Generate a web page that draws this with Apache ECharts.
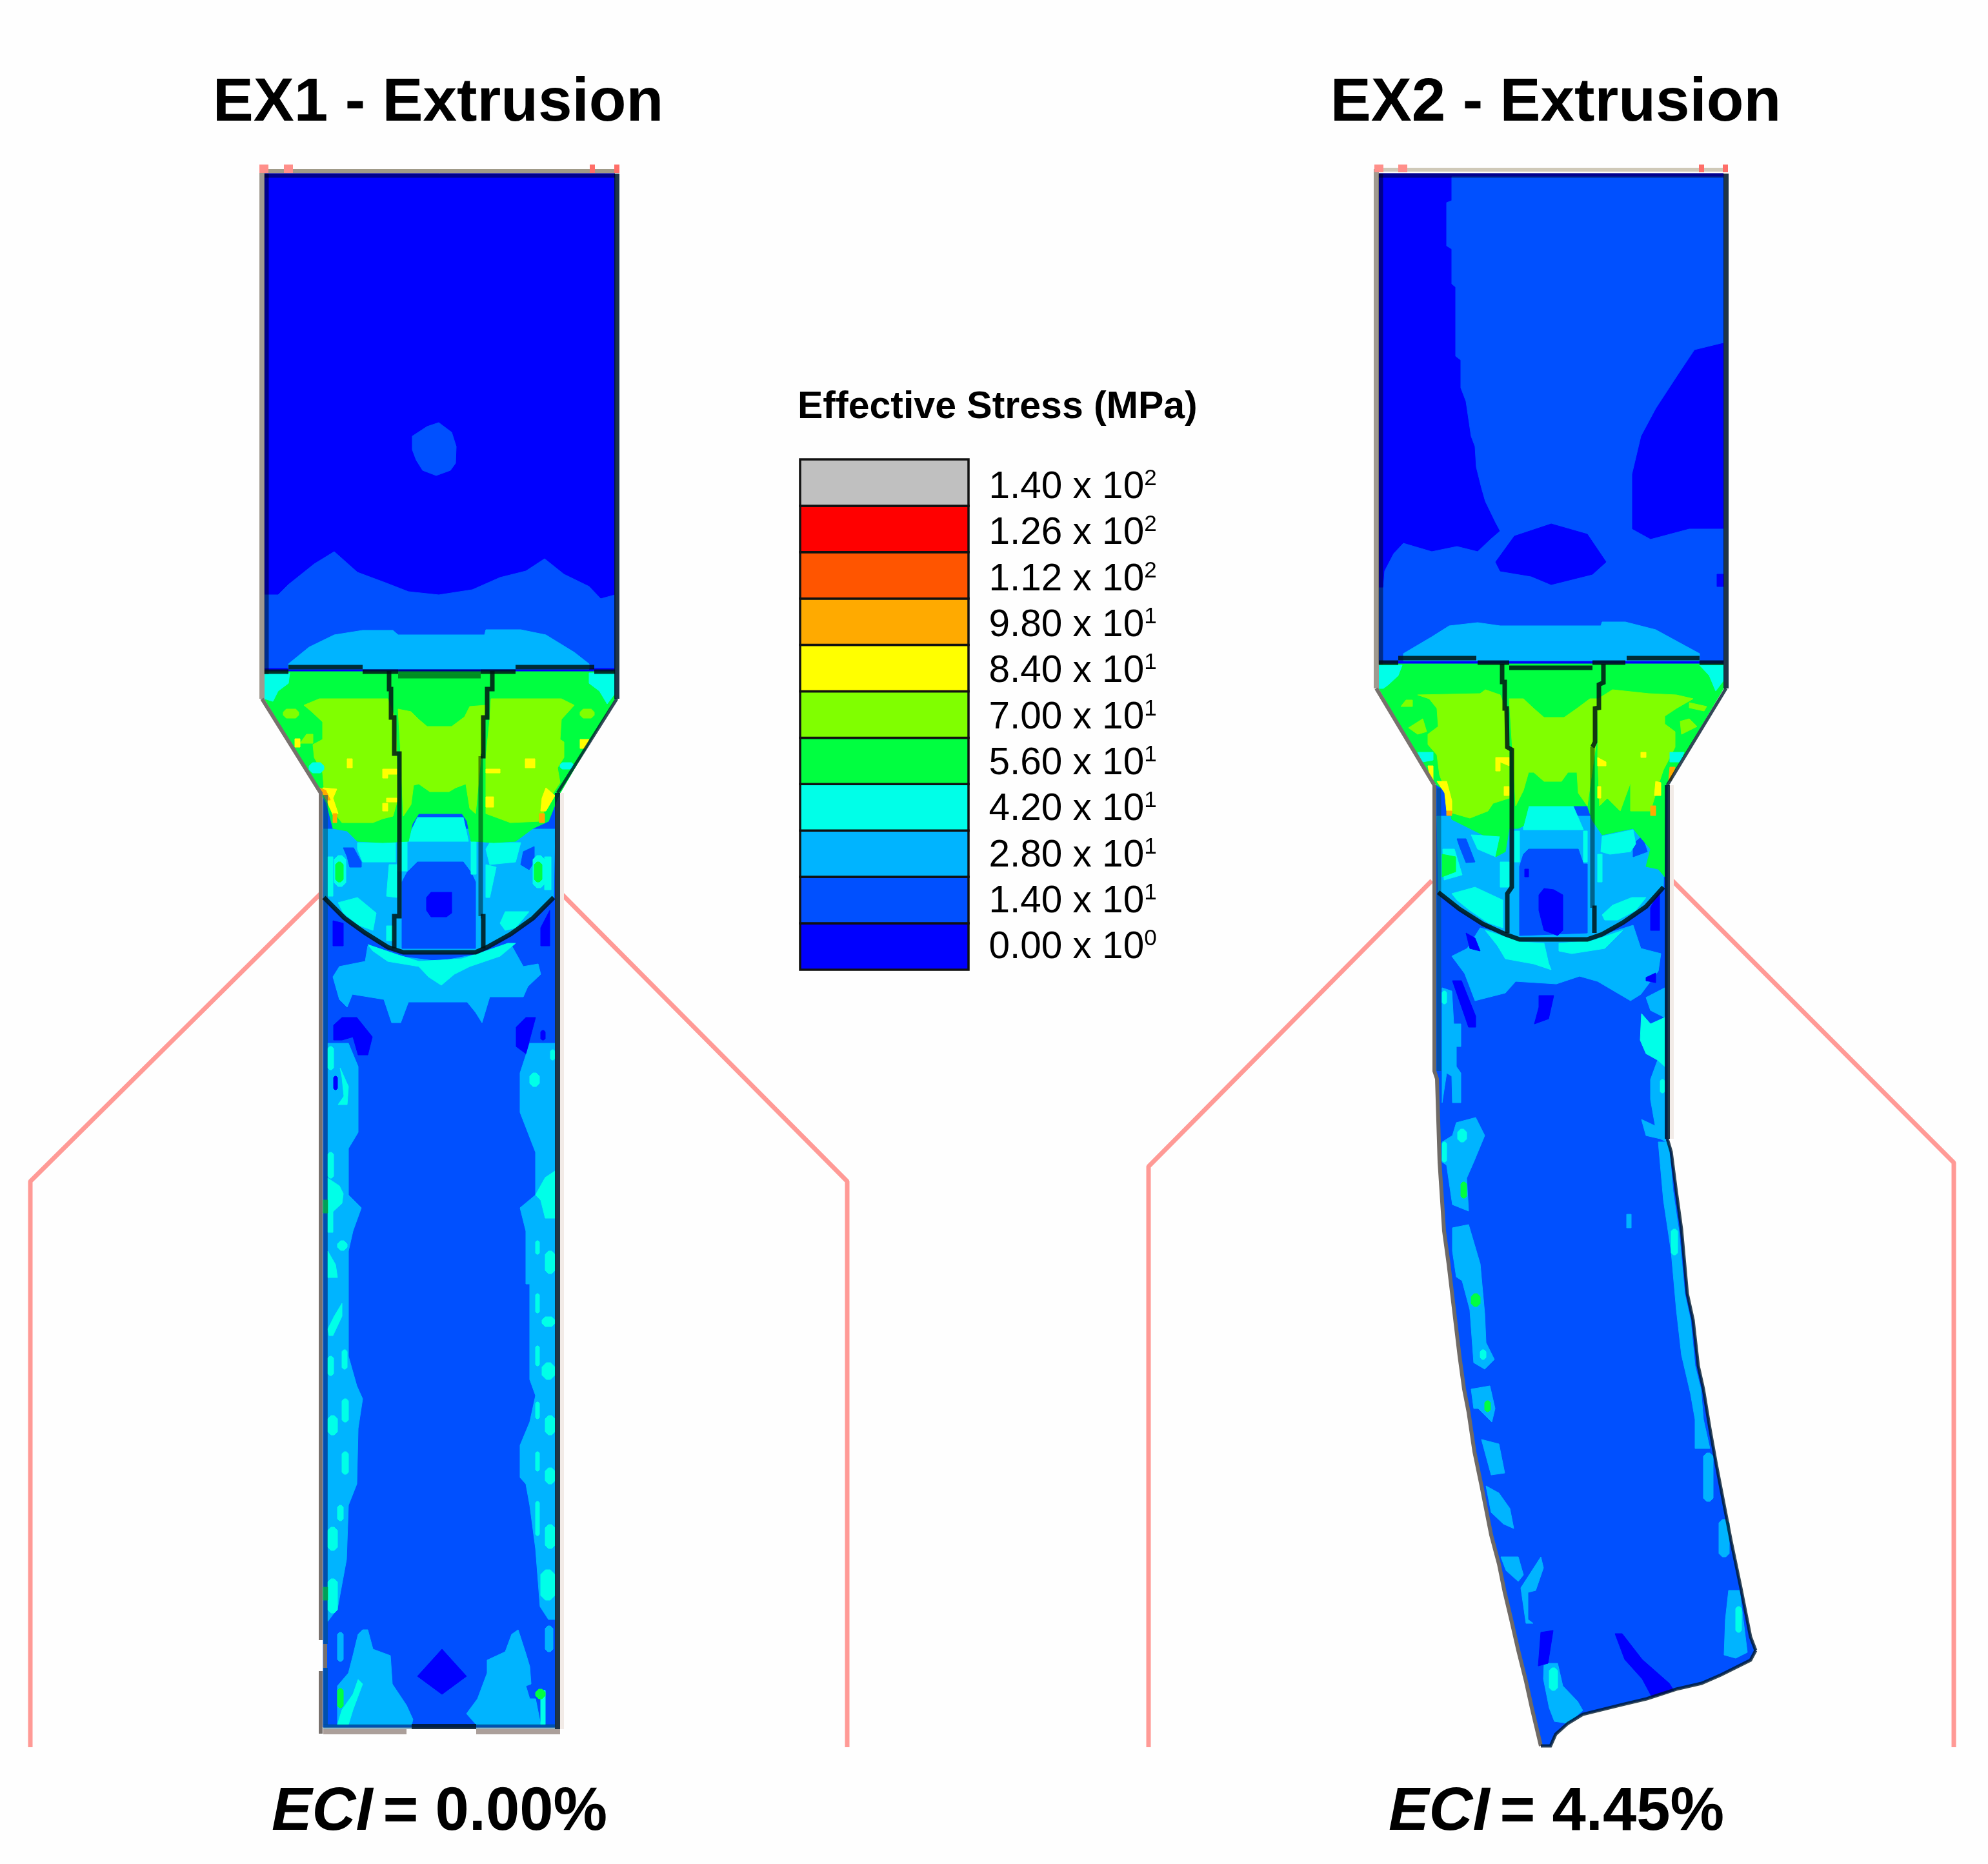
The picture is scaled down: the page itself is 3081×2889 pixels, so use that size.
<!DOCTYPE html>
<html>
<head>
<meta charset="utf-8">
<title>EX1 / EX2 extrusion effective stress</title>
<script src="https://cdn.jsdelivr.net/npm/echarts@6/dist/echarts.min.js"></script>
<style>
html,body{margin:0;padding:0;background:#fefefe;}
#main{width:3081px;height:2889px;}
</style>
</head>
<body>
<div id="main"></div>
<script type="text/javascript">
// stress bands, lowest first
var bandColors = ['#0000FF','#0050FF','#00B4FF','#00FFE8','#00FF40','#80FF00','#FFFF00','#FFAA00','#FF5500','#FF0000','#C0C0C0'];
var legendMantissa = ['0.00','1.40','2.80','4.20','5.60','7.00','8.40','9.80','1.12','1.26','1.40'];
var legendExponent = [0,1,1,1,1,1,1,1,2,2,2];
var panelTitles = ['EX1 - Extrusion','EX2 - Extrusion'];
var eciValues = ['0.00%','4.45%'];

function box(a,b,c,d){ return [[a,b],[c,b],[c,d],[a,d]]; }
// small contour islands, corners cut off
function spot(a,b,c,d){
  var k = Math.min(c-a,d-b)/3;
  return [[a+k,b],[c-k,b],[c,b+k],[c,d-k],[c-k,d],[a+k,d],[a,d-k],[a,b+k]];
}

// ---- EX1 contour regions (picture pixels) ----
var ex1Block = [[[410,269],[953,269],[953,1045],[410,1045]]];
var ex1TopBlue = [
  [[410,922],[431,922],[447,906],[487,874],[518,855],[554,887],[597,903],[633,917],[680,922],[732,914],[775,895],[815,885],[844,866],[874,890],[913,909],[931,928],[953,922],[953,1035],[410,1035]],
  [[639,676],[662,661],[680,655],[700,670],[707,692],[706,718],[698,729],[676,737],[655,729],[645,713],[639,697]]
];
var ex1TopSky = [[[447,1029],[479,1003],[518,984],[562,977],[609,977],[617,984],[751,984],[753,976],[807,976],[846,984],[890,1011],[913,1029],[913,1037],[447,1037]]];
var ex1BarBase = [[[501,1229],[860,1229],[860,2677],[501,2677]]];
var ex1BarSky = [
  [[570,1466],[617,1482],[680,1490],[745,1478],[791,1462],[811,1498],[834,1494],[838,1510],[818,1529],[811,1545],[759,1545],[747,1585],[737,1569],[724,1553],[633,1553],[621,1585],[607,1585],[595,1549],[546,1541],[538,1561],[526,1549],[516,1514],[526,1498],[566,1490]],
  [[508,1617],[540,1617],[555,1653],[555,1755],[540,1780],[540,1852],[560,1872],[547,1908],[540,1939],[540,2102],[553,2148],[562,2168],[555,2214],[553,2300],[540,2333],[537,2417],[523,2493],[508,2513]],
  [[860,1617],[821,1617],[806,1663],[806,1724],[830,1786],[830,1852],[806,1872],[815,1908],[815,1990],[821,1990],[821,2138],[830,2163],[821,2204],[806,2240],[806,2290],[815,2300],[821,2333],[830,2400],[837,2490],[850,2510],[860,2510]],
  [[562,2526],[570,2526],[578,2556],[605,2566],[608,2610],[630,2643],[640,2665],[638,2673],[523,2673],[523,2613],[540,2593],[547,2566],[555,2533]],
  [[793,2533],[803,2526],[815,2563],[821,2583],[823,2610],[815,2613],[821,2633],[830,2633],[838,2673],[738,2673],[723,2656],[740,2633],[755,2593],[755,2573],[783,2560]],
  spot(523,2530,532,2575), spot(845,2520,857,2560)
];
var ex1BarCyan = [
  [[570,1464],[617,1480],[649,1490],[716,1486],[747,1476],[787,1462],[799,1462],[775,1482],[728,1498],[704,1510],[684,1527],[664,1514],[649,1498],[601,1490],[578,1474]],
  spot(508,1622,517,1658), [[527,1655],[540,1684],[538,1712],[524,1712],[533,1699],[530,1670]],
  spot(508,1786,517,1826), [[508,1826],[526,1838],[532,1850],[530,1865],[516,1878],[516,1910],[508,1910]],
  [[508,1939],[520,1960],[523,1980],[508,1980]], spot(523,1923,538,1938),
  [[508,2060],[518,2040],[530,2020],[530,2040],[516,2070],[510,2070]],
  spot(508,2102,517,2132), spot(530,2092,538,2122), spot(530,2168,540,2204), spot(508,2194,523,2224), spot(530,2250,540,2285),
  spot(523,2333,532,2357), spot(508,2367,523,2403), spot(508,2447,523,2500),
  spot(853,1627,860,1643), spot(821,1663,836,1684), [[830,1852],[845,1825],[860,1815],[860,1888],[845,1888],[838,1860]],
  spot(830,1923,836,1944), spot(845,1939,860,1974), spot(830,2005,836,2035), spot(840,2041,860,2056), spot(830,2086,836,2117),
  spot(840,2112,860,2138), spot(830,2173,836,2199), spot(845,2194,860,2224), spot(830,2250,836,2280), spot(845,2275,860,2300),
  spot(830,2327,836,2380), spot(845,2363,860,2400), spot(838,2433,860,2480),
  [[523,2673],[540,2673],[547,2650],[562,2610],[555,2603],[547,2626],[530,2650]], box(838,2620,845,2673)
];
var ex1BarDeep = [
  [[516,1427],[532,1431],[532,1466],[516,1466]], [[838,1438],[852,1411],[852,1466],[838,1466]],
  [[517,1589],[530,1577],[553,1577],[577,1607],[570,1635],[555,1635],[547,1607],[530,1612],[517,1612]],
  [[800,1592],[815,1577],[830,1577],[815,1633],[800,1622]],
  spot(517,1668,523,1689), spot(838,1597,845,1612),
  [[685,2556],[723,2598],[685,2626],[647,2598]]
];
var ex1BarGreen = [spot(523,2617,532,2647), spot(830,2618,845,2633), box(501,2460,508,2480), box(501,1860,508,1880)];
var ex1ZoneSky = [[[501,1285],[860,1285],[858,1391],[826,1423],[791,1448],[755,1468],[737,1476],[625,1476],[601,1468],[566,1446],[534,1423],[502,1391]]];
var ex1ZoneBlue = [
  [[647,1336],[718,1336],[730,1352],[737,1367],[737,1470],[623,1470],[623,1367],[631,1352]],
  [[532,1314],[548,1314],[560,1336],[560,1344],[542,1344],[538,1328]],
  [[811,1320],[828,1312],[828,1336],[820,1348],[807,1340]]
];
var ex1ZoneDeep = [[[668,1383],[700,1383],[700,1415],[692,1421],[668,1421],[661,1411],[661,1391]]];
var ex1ZoneCyan = [
  [[554,1306],[613,1306],[613,1336],[595,1336],[562,1336],[554,1316]],
  [[759,1306],[807,1306],[799,1336],[759,1340],[753,1316]],
  [[647,1267],[718,1267],[726,1304],[633,1304],[639,1284]],
  box(617,1304,631,1350), box(730,1304,738,1355),
  [[524,1399],[554,1391],[583,1415],[578,1442],[556,1434],[532,1415]],
  [[783,1413],[820,1413],[799,1438],[783,1442],[775,1431]],
  [[603,1340],[615,1340],[615,1391],[599,1389]], [[753,1340],[769,1344],[759,1391],[753,1391]],
  box(599,1435,609,1458), box(508,1328,516,1389), box(844,1328,854,1379), spot(518,1326,536,1374), spot(826,1326,844,1376)
];
var ex1ZoneGreen = [
  [[410,1041],[953,1041],[953,1083],[866,1233],[850,1273],[826,1284],[799,1304],[765,1306],[736,1304],[730,1304],[724,1273],[716,1261],[649,1261],[639,1277],[633,1304],[593,1306],[554,1304],[538,1288],[516,1284],[506,1245],[495,1225],[410,1083]],
  spot(520,1336,532,1367), spot(828,1336,840,1367)
];
var ex1WedgeCyan = [
  [[410,1043],[449,1043],[447,1059],[431,1071],[423,1087],[410,1083]],
  [[913,1043],[953,1043],[953,1075],[941,1091],[929,1071],[913,1059]],
  spot(479,1182,502,1198), spot(868,1182,889,1192)
];
var ex1Lime = [
  [[471,1093],[495,1083],[601,1083],[613,1115],[617,1237],[609,1265],[593,1269],[578,1275],[530,1275],[522,1265],[514,1245],[502,1221],[500,1198],[487,1174],[485,1154],[500,1146],[500,1119],[483,1103]],
  [[617,1099],[637,1103],[649,1115],[662,1126],[700,1126],[720,1111],[728,1095],[753,1093],[745,1178],[737,1261],[728,1253],[722,1215],[706,1221],[696,1227],[666,1227],[649,1215],[641,1217],[637,1247],[625,1265],[621,1170]],
  [[761,1083],[870,1083],[890,1093],[870,1115],[868,1146],[874,1150],[874,1174],[864,1190],[868,1213],[852,1237],[842,1261],[836,1273],[791,1275],[775,1269],[753,1261],[753,1174],[759,1115]],
  spot(439,1099,463,1113), spot(899,1099,921,1113), [[475,1138],[485,1138],[485,1152],[465,1152]]
];
var ex1Yellow = [
  box(538,1176,546,1190), box(814,1176,829,1190),
  [[593,1192],[615,1192],[615,1200],[601,1200],[601,1206],[593,1206]], box(753,1192,775,1198),
  [[500,1221],[522,1223],[516,1237],[524,1261],[516,1263],[508,1245]],
  [[846,1221],[860,1233],[846,1257],[838,1257],[840,1237]],
  box(599,1237,615,1243), box(593,1245,601,1257), box(753,1235,765,1251),
  box(457,1145,465,1158), [[899,1146],[913,1146],[907,1160],[899,1160]]
];
var ex1Orange = [[[495,1221],[505,1225],[512,1240],[506,1240]], box(836,1261,844,1275), box(516,1261,522,1275)];

// ---- EX2 contour regions ----
var ex2Block = [[[2137,269],[2671,269],[2671,1030],[2137,1030]]];
var ex2TopBlue = [[[2250,274],[2250,311],[2242,314],[2242,381],[2250,386],[2250,440],[2256,445],[2256,552],[2264,558],[2264,601],[2272,622],[2280,676],[2286,692],[2288,724],[2296,756],[2302,777],[2318,810],[2325,823],[2310,836],[2290,855],[2258,847],[2219,855],[2175,842],[2160,858],[2146,885],[2144,911],[2137,911],[2137,1024],[2671,1024],[2671,820],[2618,820],[2558,836],[2529,820],[2529,735],[2543,676],[2566,633],[2598,584],[2626,542],[2671,531],[2671,274]]];
var ex2TopDeep = [
  [[2318,871],[2347,831],[2404,812],[2460,828],[2489,871],[2468,890],[2404,906],[2373,893],[2325,885]],
  box(2661,890,2671,909)
];
var ex2TopSky = [[[2175,1013],[2219,987],[2246,970],[2290,965],[2325,970],[2481,970],[2483,964],[2519,964],[2566,976],[2610,1000],[2634,1013],[2634,1024],[2175,1024]]];
var ex2LeftEdge = [[2223,1217],[2223,1660],[2227,1672],[2231,1801],[2238,1908],[2245,1959],[2254,2035],[2262,2102],[2269,2153],[2276,2189],[2285,2250],[2296,2303],[2311,2379],[2323,2424],[2332,2468],[2342,2510],[2353,2558],[2365,2606],[2374,2647],[2388,2706]];
var ex2BottomEdge = [[2388,2706],[2403,2706],[2411,2688],[2430,2671],[2453,2657],[2514,2642],[2552,2633],[2598,2618],[2637,2609],[2667,2596],[2713,2573],[2721,2558]];
var ex2RightEdge = [[2584,1217],[2584,1765],[2590,1785],[2598,1847],[2606,1905],[2615,2005],[2624,2046],[2632,2117],[2640,2153],[2650,2214],[2660,2270],[2665,2296],[2683,2389],[2698,2461],[2713,2537],[2721,2558]];
var ex2BarBase = [ex2LeftEdge.concat(ex2BottomEdge, ex2RightEdge.slice().reverse())];
var ex2BarSky = [
  [[2294,1438],[2357,1454],[2468,1454],[2531,1434],[2543,1470],[2574,1478],[2570,1505],[2543,1541],[2527,1551],[2476,1521],[2448,1513],[2412,1525],[2349,1521],[2333,1539],[2286,1551],[2270,1509],[2250,1482],[2274,1470]],
  [[2235,1531],[2250,1536],[2253,1587],[2264,1587],[2264,1622],[2257,1622],[2257,1653],[2264,1663],[2264,1709],[2251,1709],[2250,1668],[2242,1663],[2235,1709]],
  [[2257,1740],[2287,1732],[2301,1760],[2284,1801],[2273,1826],[2276,1877],[2251,1867],[2242,1806],[2235,1801],[2235,1770],[2251,1760]],
  [[2251,1903],[2276,1898],[2294,1959],[2301,2036],[2303,2081],[2316,2107],[2301,2122],[2284,2112],[2278,2030],[2266,1985],[2257,1979],[2251,1939]],
  [[2280,2153],[2309,2148],[2317,2183],[2312,2204],[2291,2183],[2284,2183]],
  [[2296,2231],[2323,2238],[2332,2283],[2311,2286]],
  [[2303,2303],[2323,2314],[2340,2338],[2346,2369],[2330,2362],[2311,2344]],
  [[2326,2413],[2353,2413],[2361,2441],[2353,2451],[2334,2434]],
  [[2357,2461],[2388,2413],[2392,2430],[2380,2465],[2368,2468],[2368,2510],[2376,2516],[2365,2516]],
  [[2393,2578],[2414,2578],[2422,2613],[2445,2637],[2453,2651],[2430,2671],[2409,2668],[2401,2647],[2392,2602]],
  [[2551,1546],[2580,1531],[2580,1577],[2558,1566]],
  [[2569,1643],[2580,1643],[2580,1765],[2567,1755],[2558,1704],[2558,1673]],
  [[2544,1735],[2576,1750],[2583,1770],[2573,1765],[2551,1760]],
  [[2570,1770],[2586,1770],[2593,1847],[2602,1908],[2611,2005],[2620,2046],[2627,2117],[2636,2153],[2640,2200],[2627,2200],[2620,2160],[2606,2100],[2598,2030],[2590,1940],[2578,1860]],
  [[2627,2200],[2640,2200],[2650,2245],[2627,2245]], spot(2640,2252,2655,2327), spot(2664,2355,2680,2413),
  [[2679,2465],[2696,2465],[2708,2561],[2690,2570],[2672,2565],[2674,2510]],
  box(2521,1882,2528,1903)
];
var ex2BarCyan = [
  [[2302,1442],[2357,1460],[2393,1462],[2400,1493],[2404,1503],[2377,1494],[2333,1486],[2321,1466]],
  [[2416,1462],[2468,1458],[2515,1442],[2487,1470],[2436,1478],[2416,1474]],
  [[2544,1571],[2558,1587],[2580,1577],[2580,1653],[2569,1643],[2551,1633],[2542,1612]],
  spot(2573,1673,2580,1694), spot(2259,1750,2273,1770), spot(2235,1770,2242,1801), spot(2235,1536,2242,1556),
  spot(2401,2585,2414,2620), spot(2294,2092,2303,2107), spot(2590,1905,2600,1945), spot(2690,2490,2699,2530)
];
var ex2BarGreen = [spot(2264,1832,2273,1857), spot(2280,2005,2294,2025), spot(2301,2171,2310,2188)];
var ex2BarDeep = [
  [[2272,1446],[2286,1454],[2294,1474],[2278,1470]],
  [[2558,1407],[2572,1379],[2572,1442],[2558,1442]],
  [[2251,1520],[2265,1520],[2287,1575],[2287,1592],[2276,1592]],
  [[2385,1543],[2408,1543],[2400,1579],[2378,1587],[2385,1561]],
  [[2551,1515],[2566,1508],[2566,1523],[2551,1520]],
  [[2503,2532],[2514,2532],[2545,2572],[2587,2609],[2594,2620],[2560,2630],[2545,2602],[2518,2572]],
  [[2388,2530],[2407,2527],[2399,2578],[2384,2582]]
];
var ex2ZoneSky = [[[2227,1265],[2580,1265],[2578,1375],[2551,1405],[2515,1430],[2483,1448],[2460,1456],[2355,1456],[2333,1448],[2298,1432],[2262,1409],[2229,1383]]];
var ex2ZoneBlue = [
  [[2369,1316],[2446,1316],[2454,1339],[2460,1339],[2460,1446],[2355,1450],[2355,1343],[2361,1324]],
  [[2258,1300],[2272,1300],[2286,1336],[2272,1337],[2262,1312]],
  [[2531,1308],[2545,1296],[2553,1320],[2531,1328]]
];
var ex2ZoneDeep = [
  [[2393,1377],[2408,1379],[2422,1387],[2422,1442],[2414,1450],[2393,1442],[2385,1411],[2385,1387]],
  box(2363,1347,2369,1359)
];
var ex2ZoneCyan = [
  [[2280,1294],[2325,1296],[2318,1328],[2290,1316]],
  [[2483,1296],[2531,1286],[2535,1308],[2527,1320],[2495,1324],[2481,1320]],
  [[2369,1249],[2438,1249],[2454,1286],[2361,1286],[2361,1280]],
  box(2347,1288,2355,1336), box(2454,1288,2460,1336), box(2476,1324,2483,1367), box(2325,1336,2339,1375),
  [[2250,1385],[2286,1375],[2329,1395],[2329,1438],[2306,1430],[2278,1411],[2258,1395]],
  [[2499,1403],[2529,1391],[2551,1391],[2535,1411],[2507,1426],[2487,1426],[2483,1418]],
  [[2236,1316],[2254,1316],[2266,1356],[2238,1364]]
];
var ex2ZoneGreen = [
  [[2137,1029],[2671,1029],[2671,1067],[2582,1217],[2580,1359],[2570,1347],[2551,1343],[2558,1316],[2539,1294],[2531,1284],[2483,1294],[2468,1272],[2460,1249],[2369,1249],[2361,1280],[2353,1284],[2339,1284],[2333,1320],[2318,1328],[2325,1296],[2298,1294],[2250,1270],[2239,1225],[2221,1213],[2137,1067]],
  [[2235,1324],[2256,1328],[2256,1351],[2235,1359]]
];
var ex2WedgeCyan = [
  [[2137,1031],[2173,1031],[2167,1047],[2152,1061],[2144,1067],[2137,1067]],
  [[2634,1031],[2671,1031],[2671,1055],[2659,1071],[2649,1047]],
  [[2197,1166],[2221,1166],[2221,1178],[2205,1181]],
  [[2588,1166],[2610,1166],[2604,1181],[2588,1181]]
];
var ex2Lime = [
  [[2197,1077],[2294,1075],[2302,1069],[2325,1077],[2333,1098],[2339,1162],[2339,1237],[2314,1245],[2306,1257],[2278,1268],[2250,1260],[2242,1229],[2231,1201],[2227,1170],[2213,1154],[2213,1138],[2229,1126],[2227,1098],[2215,1083]],
  [[2339,1083],[2361,1083],[2377,1098],[2393,1112],[2424,1112],[2444,1098],[2464,1083],[2476,1083],[2474,1150],[2460,1249],[2446,1229],[2444,1197],[2430,1197],[2420,1211],[2393,1211],[2377,1197],[2369,1197],[2361,1225],[2349,1249],[2345,1178]],
  [[2477,1083],[2499,1069],[2555,1075],[2598,1077],[2624,1083],[2598,1098],[2580,1110],[2580,1122],[2596,1134],[2596,1158],[2588,1174],[2578,1193],[2570,1217],[2558,1257],[2527,1257],[2527,1213],[2511,1257],[2491,1237],[2479,1249],[2476,1178]],
  [[2618,1089],[2645,1095],[2641,1102],[2618,1097]],
  [[2179,1085],[2189,1085],[2189,1095],[2171,1095]],
  [[2183,1128],[2205,1114],[2211,1134],[2197,1138]],
  [[2604,1118],[2618,1114],[2630,1126],[2606,1138]]
];
var ex2Yellow = [
  [[2318,1174],[2339,1174],[2339,1187],[2325,1181],[2325,1195],[2318,1195]],
  [[2476,1174],[2489,1181],[2489,1187],[2476,1187]],
  box(2543,1166,2551,1174), box(2331,1219,2339,1233), box(2476,1219,2481,1237),
  [[2227,1211],[2242,1211],[2250,1241],[2250,1257],[2242,1257],[2239,1229]],
  [[2566,1211],[2574,1213],[2574,1233],[2564,1233]],
  [[2213,1187],[2221,1187],[2221,1209],[2217,1209]]
];
var ex2Orange = [box(2558,1249,2566,1264), box(2242,1257,2250,1264), [[2588,1189],[2596,1189],[2590,1210],[2586,1210]]];

// ---- die outlines and element lines ----
var dieLines = [
  [[497,1385],[47,1831],[47,2708]],
  [[870,1385],[1313,1831],[1313,2708]],
  [[2219,1365],[1780,1808],[1780,2708]],
  [[2590,1363],[3028,1802],[3028,2708]]
];
var dieTicksWide = [
  [[409,255],[409,268]], [[447,255],[447,268]], [[2137,255],[2137,267]], [[2174,255],[2174,267]]
];
var dieTicksNarrow = [
  [[918,255],[918,268]], [[956,255],[956,268]], [[2637,255],[2637,267]], [[2674,255],[2674,267]]
];

var ex1Dark = [
  [[447,1034],[562,1034]], [[410,1041],[447,1041]], [[562,1041],[617,1041]], [[745,1041],[799,1041]], [[799,1034],[921,1034]], [[921,1041],[953,1041]],
  [[603,1040],[603,1068],[606,1068],[606,1112],[611,1112],[611,1168],[619,1168],[619,1420],[611,1420],[611,1470]],
  [[763,1040],[763,1068],[755,1068],[755,1112],[749,1112],[749,1172],[745,1172]],
  [[745,1420],[749,1420],[749,1470]],
  [[502,1391],[534,1423],[566,1446],[601,1468],[625,1476],[737,1476],[755,1468],[791,1448],[826,1423],[858,1391]]
];
var ex1Faint = [
  [[617,1041],[745,1041]], [[617,1048],[745,1048]], [[745,1172],[745,1420]],
  [[413,269],[413,1045]], [[410,272],[953,272]]
];
var ex1BlockEdge = [[[406,262],[406,1083]]];
var ex1GrayEdge = [[[406,1083],[497,1229],[497,2542]], [[497,2590],[497,2687]], [[504,2548],[504,2585]]];
var ex1DarkEdge = [[[956,269],[956,1083]], [[864,1229],[864,2680]], [[638,2676],[738,2676]]];
var ex1Slant = [[[956,1083],[864,1229]]];
var ex1TopEdge = [[[402,265],[959,265]]];
var ex1TealEdge = [[[504.5,1232],[504.5,2548]], [[504.5,2585],[504.5,2673]], [[501,2676],[638,2676]], [[738,2676],[860,2676]]];
var ex1PaleEdge = [[[501,2684],[630,2684]], [[738,2684],[868,2684]]];
var ex1Shadow = [[[871,1229],[871,2680]]];

var ex2Dark = [
  [[2167,1020],[2288,1020]], [[2521,1020],[2634,1020]], [[2137,1027],[2167,1027]], [[2290,1027],[2339,1027]], [[2468,1027],[2519,1027]], [[2634,1027],[2671,1027]],
  [[2339,1035],[2468,1035]],
  [[2328,1029],[2328,1057],[2332,1057],[2332,1098],[2335,1098],[2336,1158],[2343,1162],[2343,1375],[2336,1385],[2336,1446]],
  [[2485,1029],[2485,1058],[2478,1061],[2478,1097],[2472,1098],[2472,1150],[2468,1158]],
  [[2468,1407],[2471,1407],[2471,1446]],
  [[2229,1383],[2262,1409],[2298,1432],[2333,1448],[2355,1456],[2460,1456],[2483,1448],[2515,1430],[2551,1405],[2578,1375]]
];
var ex2Faint = [[[2468,1158],[2468,1407]], [[2140,269],[2140,1030]], [[2137,272],[2671,272]]];
var ex2BlockEdge = [[[2133,262],[2133,1067]]];
var ex2GrayEdge = [[[2133,1067],[2223,1217]]];
var ex2BarLeft = [ex2LeftEdge];
var ex2DarkEdge = [[[2675,269],[2675,1067]], [[2584,1217],[2584,1765]]];
var ex2Slant = [[[2675,1067],[2584,1217]], ex2RightEdge.slice(1), ex2BottomEdge];
var ex2TopEdge = [[[2130,263],[2678,263]]];
var ex2TealEdge = [[[2230,1222],[2230,1660]]];
var ex2Shadow = [[[2591,1217],[2591,1765]]];

// ---- paint order, band index then regions ----
var paintOrder = [
  [0,ex1Block],[1,ex1TopBlue],[2,ex1TopSky],[1,ex1BarBase],[2,ex1BarSky],[3,ex1BarCyan],[0,ex1BarDeep],[4,ex1BarGreen],
  [2,ex1ZoneSky],[1,ex1ZoneBlue],[0,ex1ZoneDeep],[3,ex1ZoneCyan],[4,ex1ZoneGreen],[5,ex1Lime],[3,ex1WedgeCyan],[6,ex1Yellow],[7,ex1Orange],
  [0,ex2Block],[1,ex2TopBlue],[0,ex2TopDeep],[2,ex2TopSky],[1,ex2BarBase],[2,ex2BarSky],[3,ex2BarCyan],[4,ex2BarGreen],[0,ex2BarDeep],
  [2,ex2ZoneSky],[1,ex2ZoneBlue],[0,ex2ZoneDeep],[3,ex2ZoneCyan],[4,ex2ZoneGreen],[5,ex2Lime],[3,ex2WedgeCyan],[6,ex2Yellow],[7,ex2Orange]
];
var strokeOrder = [
  [ex1Shadow,'#f2ebe7',6],[ex1TealEdge,'rgba(0,80,110,0.55)',7],[ex1PaleEdge,'#ab9f9a',8],[ex1TopEdge,'#a09a88',6],
  [ex1BlockEdge,'#a09a90',8],[ex1GrayEdge,'#78716d',6],
  [ex1DarkEdge,'rgba(0,25,45,0.88)',8],[ex1Slant,'rgba(0,25,45,0.8)',5],[ex1Faint,'rgba(0,0,0,0.45)',7],[ex1Dark,'rgba(0,20,20,0.85)',7],
  [ex2Shadow,'#f2ebe7',6],[ex2TealEdge,'rgba(0,80,110,0.55)',7],[ex2TopEdge,'#cfc9b8',6],
  [ex2BlockEdge,'#a09a90',8],[ex2GrayEdge,'#78716d',6],[ex2BarLeft,'#6f6a66',6],
  [ex2DarkEdge,'rgba(0,25,45,0.88)',8],[ex2Slant,'rgba(0,25,45,0.8)',5],[ex2Faint,'rgba(0,0,0,0.45)',7],[ex2Dark,'rgba(0,20,20,0.85)',7],
  [dieTicksWide,'#FF8F8A',14],[dieTicksNarrow,'#FF6E68',8]
];

var patches = [];
paintOrder.forEach(function(step){
  step[1].forEach(function(pts){ patches.push({points:pts, color:bandColors[step[0]]}); });
});

var strokes = [];
strokeOrder.forEach(function(step){
  step[0].forEach(function(pts){ strokes.push({points:pts, color:step[1], width:step[2]}); });
});

var font = '"Liberation Sans", Arial, sans-serif';
var legendLeft = 1240, legendRight = 1501, legendTop = 712, rowHeight = 71.9;
var labelX = 1532, labelTop = 756, labelStep = 71.3;

var legendLabels = legendMantissa.map(function(m, i){
  var row = legendMantissa.length - 1 - i;
  return {
    value:[labelX, labelTop + labelStep*row],
    label:{formatter:'{b|' + m + ' x 10}{s|' + legendExponent[i] + '}'}
  };
});

var myChart = echarts.init(document.getElementById('main'), null, {renderer:'canvas'});
myChart.setOption({
  animation:false,
  backgroundColor:'#fefefe',
  grid:{left:0,right:0,top:0,bottom:0},
  xAxis:{type:'value',min:0,max:3081,show:false},
  yAxis:{type:'value',min:0,max:2889,inverse:true,show:false},
  title:[
    {text:panelTitles[0],left:679,top:161,textAlign:'center',textVerticalAlign:'middle',padding:0,textStyle:{fontFamily:font,fontWeight:'bold',fontSize:94.5,color:'#000'}},
    {text:panelTitles[1],left:2411,top:161,textAlign:'center',textVerticalAlign:'middle',padding:0,textStyle:{fontFamily:font,fontWeight:'bold',fontSize:94.5,color:'#000'}},
    {text:'Effective Stress (MPa)',left:1236,top:632,textAlign:'left',textVerticalAlign:'middle',padding:0,textStyle:{fontFamily:font,fontWeight:'bold',fontSize:59,color:'#000'}},
    {text:'{i|ECI}{b|= ' + eciValues[0] + '}',left:681,top:2810,textAlign:'center',textVerticalAlign:'middle',padding:0,
     textStyle:{rich:{i:{fontFamily:font,fontWeight:'bold',fontStyle:'italic',fontSize:94,color:'#000'},b:{fontFamily:font,fontWeight:'bold',fontSize:94,color:'#000',padding:[0,0,0,16]}}}},
    {text:'{i|ECI}{b|= ' + eciValues[1] + '}',left:2412,top:2810,textAlign:'center',textVerticalAlign:'middle',padding:0,
     textStyle:{rich:{i:{fontFamily:font,fontWeight:'bold',fontStyle:'italic',fontSize:94,color:'#000'},b:{fontFamily:font,fontWeight:'bold',fontSize:94,color:'#000',padding:[0,0,0,16]}}}}
  ],
  series:[
    {
      type:'line',silent:true,showSymbol:false,data:dieLines[0],lineStyle:{color:'#FF9A96',width:7},z:1
    },
    {
      type:'line',silent:true,showSymbol:false,data:dieLines[1],lineStyle:{color:'#FF9A96',width:7},z:1
    },
    {
      type:'line',silent:true,showSymbol:false,data:dieLines[2],lineStyle:{color:'#FF9A96',width:7},z:1
    },
    {
      type:'line',silent:true,showSymbol:false,data:dieLines[3],lineStyle:{color:'#FF9A96',width:7},z:1
    },
    {
      type:'custom',silent:true,clip:false,z:2,
      data:patches.map(function(p,i){ return [i,0]; }),
      renderItem:function(params, api){
        var p = patches[params.dataIndex];
        return {type:'polygon',shape:{points:p.points.map(function(pt){ return api.coord(pt); })},
          style:{fill:p.color,stroke:p.color,lineWidth:1}};
      }
    },
    {
      type:'custom',silent:true,clip:false,z:3,
      data:strokes.map(function(s,i){ return [i,0]; }),
      renderItem:function(params, api){
        var s = strokes[params.dataIndex];
        return {type:'polyline',shape:{points:s.points.map(function(pt){ return api.coord(pt); })},
          style:{fill:null,stroke:s.color,lineWidth:s.width,lineJoin:'miter'}};
      }
    },
    {
      // legend swatches, top row is the highest band
      type:'custom',silent:true,clip:false,z:4,
      data:bandColors.map(function(c,i){ return [i,0]; }),
      renderItem:function(params, api){
        var row = bandColors.length - 1 - params.dataIndex;
        var a = api.coord([legendLeft, legendTop + row*rowHeight]);
        var b = api.coord([legendRight, legendTop + (row+1)*rowHeight]);
        return {type:'rect',shape:{x:a[0],y:a[1],width:b[0]-a[0],height:b[1]-a[1]},
          style:{fill:bandColors[params.dataIndex],stroke:'#111',lineWidth:3.5}};
      }
    },
    {
      type:'scatter',silent:true,z:5,symbolSize:1,itemStyle:{color:'transparent'},
      data:legendLabels,
      label:{show:true,position:'right',distance:0,opacity:1,
        rich:{
          b:{fontFamily:font,fontSize:58.5,color:'#000',lineHeight:62},
          s:{fontFamily:font,fontSize:35,color:'#000',lineHeight:62,verticalAlign:'top',padding:[0,0,24,0]}
        }}
    }
  ]
});
</script>
</body>
</html>
